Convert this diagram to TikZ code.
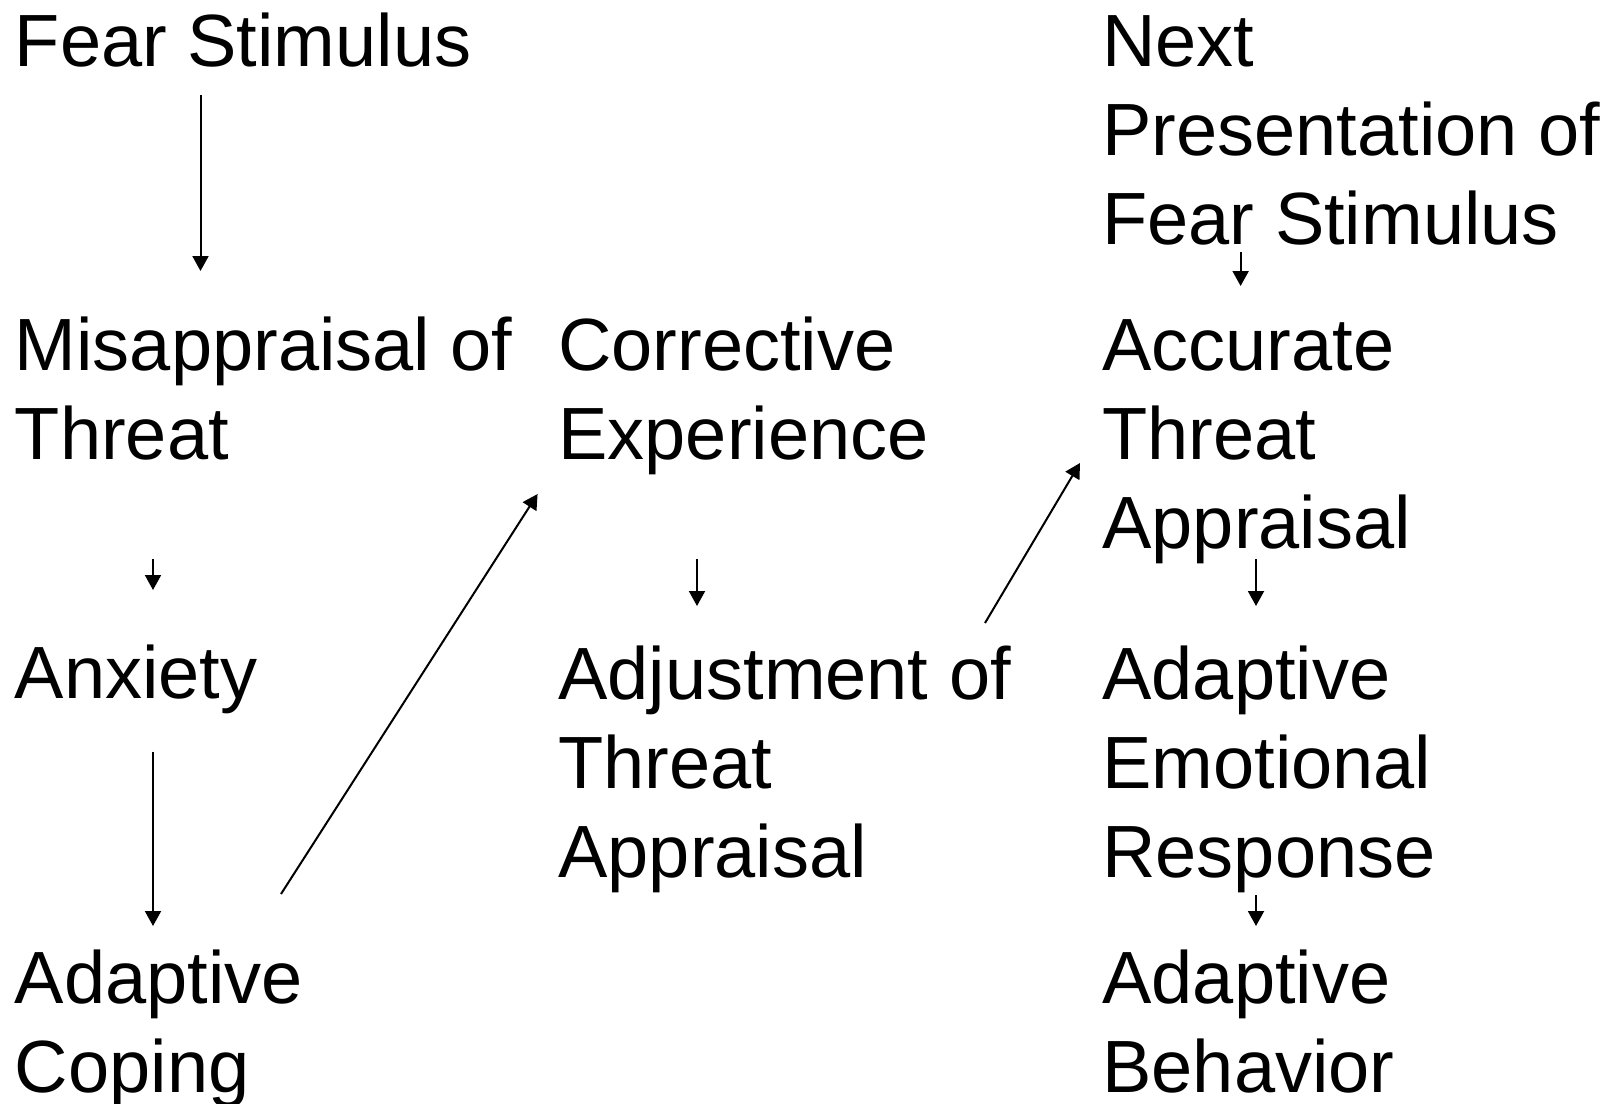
\documentclass[tikz,border=0pt]{standalone}
\usepackage{fontspec}
\setmainfont{Liberation Sans}
\usetikzlibrary{arrows.meta,calc}

\begin{document}
\begin{tikzpicture}[x=0.5pt,y=-0.5pt,
  lbl/.style={anchor=base west,inner sep=0pt,align=left,
    font=\fontsize{37pt}{44.5pt}\selectfont},
  arr/.style={-{Triangle[width=8pt,length=7.5pt]},line width=1pt}]
  \useasboundingbox (0,0) rectangle (1621,1103);
  % left column (base = last line)
  \node[lbl] (fear) at (14.5,66) {Fear Stimulus};
  \node[lbl] (misapp) at (14.5,459) {Misappraisal of\\Threat};
  \node[lbl] (anxiety) at (14.5,698) {Anxiety};
  \node[lbl] (coping) at (14.5,1092) {Adaptive\\Coping};
  % middle column
  \node[lbl] (corrective) at (558,459) {Corrective\\Experience};
  \node[lbl] (adjust) at (558,877) {Adjustment of\\Threat\\Appraisal};
  % right column
  \node[lbl] (nextpres) at (1102,244) {Next\\Presentation of\\Fear Stimulus};
  \node[lbl] (accurate) at (1102,548) {Accurate\\Threat\\Appraisal};
  \node[lbl] (emotional) at (1102,877) {Adaptive\\Emotional\\Response};
  \node[lbl] (behavior) at (1102,1092) {Adaptive\\Behavior};
  % connectors
  \draw[arr] ($(fear.base west)+(186,29)$) -- ($(misapp.base west)+(186,-188)$);
  \draw[arr] ($(misapp.base west)+(138.5,100)$) -- ($(anxiety.base west)+(138.5,-108)$);
  \draw[arr] ($(anxiety.base west)+(138.5,53.6)$) -- ($(coping.base west)+(138.5,-166)$);
  \draw[arr] ($(coping.base west)+(266.5,-198)$) -- ($(corrective.base west)+(-20.4,35)$);
  \draw[arr] ($(corrective.base west)+(139,100)$) -- ($(adjust.base west)+(139,-271)$);
  \draw[arr] ($(adjust.base west)+(427,-254)$) -- ($(accurate.base west)+(-22,-85)$);
  \draw[arr] ($(nextpres.base west)+(138.6,8)$) -- ($(accurate.base west)+(138.6,-262)$);
  \draw[arr] ($(accurate.base west)+(154,11)$) -- ($(emotional.base west)+(154,-271)$);
  \draw[arr] ($(emotional.base west)+(154,18)$) -- ($(behavior.base west)+(154,-166)$);
\end{tikzpicture}
\end{document}
